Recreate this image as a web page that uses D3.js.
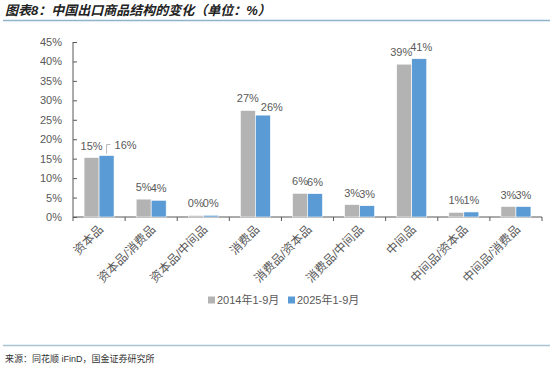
<html>
<head>
<meta charset="utf-8">
<style>
  body { margin:0; background:#fff; }
  .chart text { font-family: "Liberation Sans", "Noto Sans CJK SC", sans-serif; fill:#595959; }
  .cn { font-family: "Noto Sans CJK SC", sans-serif; }
</style>
</head>
<body>
<svg id="chart1" class="chart"></svg>
<script src="https://d3js.org/d3.v7.min.js"></script>
<script>
var width = 550, height = 367;

// data
var categories = ["资本品","资本品/消费品","资本品/中间品","消费品","消费品/资本品","消费品/中间品","中间品","中间品/资本品","中间品/消费品"];
var series2014 = [15.3, 4.6, 0.4, 27.4, 6.1, 3.2, 39.3, 1.2, 2.7];
var series2025 = [15.8, 4.3, 0.45, 26.2, 6.0, 2.9, 40.7, 1.3, 2.7];
var seriesNames = ["2014年1-9月", "2025年1-9月"];
var yTicks = [0, 5, 10, 15, 20, 25, 30, 35, 40, 45];
var colors = ["#b3b3b3", "#5b9bd5"];

var x = d3.scaleBand().domain(categories).range([73, 542]);
var y = d3.scaleLinear().domain([0, 45]).range([217, 42]);
var bw = 15;

var svg = d3.select('#chart1').attr('width', width).attr('height', height);

// title
svg.append('text').attr('class','cn')
  .attr('x', 5).attr('y', 15)
  .style('font-size','13px').style('font-weight','bold').style('font-style','italic')
  .style('fill','#222')
  .text('图表8：中国出口商品结构的变化（单位：%）');
svg.append('line').attr('x1',3).attr('x2',550).attr('y1',20.5).attr('y2',20.5)
  .attr('stroke','#8fb4c9').attr('stroke-width',1.5);

// y axis (ticks point inward)
var yAxis = svg.append('g').attr('transform','translate(73,0)')
  .call(d3.axisLeft(y).tickValues(yTicks).tickSize(-4).tickFormat(function(d){ return d + '%'; }));
yAxis.selectAll('path, line').attr('stroke','#595959');
yAxis.selectAll('text').style('font-size','11px').attr('fill','#595959').attr('x',-11);
yAxis.select('.domain').attr('d','M0,42V217');

// x axis
var xg = svg.append('g').attr('transform','translate(0,217)');
xg.append('line').attr('x1',73).attr('x2',542).attr('stroke','#595959');
xg.selectAll('.tk').data(categories.concat(['end'])).enter().append('line')
  .attr('x1', function(d,i){ return x.range()[0] + i*x.bandwidth(); })
  .attr('x2', function(d,i){ return x.range()[0] + i*x.bandwidth(); })
  .attr('y1',0).attr('y2',4).attr('stroke','#595959');
xg.selectAll('.xl').data(categories).enter().append('text')
  .attr('class','cn')
  .attr('transform', function(d){ return 'translate(' + (x(d) + x.bandwidth()/2 + 2) + ',10) rotate(-45)'; })
  .attr('text-anchor','end').attr('dy','0.35em')
  .style('font-size','12px')
  .text(function(d){ return d; });

// bars
var all = [series2014, series2025];
all.forEach(function(vals, s){
  var g = svg.append('g');
  g.selectAll('rect').data(vals).enter().append('rect')
    .attr('x', function(d,i){ return x(categories[i]) + x.bandwidth()/2 - bw + s*bw; })
    .attr('y', function(d){ return y(d); })
    .attr('width', bw)
    .attr('height', function(d){ return y(0) - y(d); })
    .attr('fill', colors[s])
    .attr('stroke','#fff').attr('stroke-width',0.6);
  g.selectAll('text').data(vals).enter().append('text')
    .attr('x', function(d,i){
      var cx = x(categories[i]) + x.bandwidth()/2 - bw/2 + s*bw;
      if (i === 0 && s === 1) return cx + 19;
      if (i === 3 && s === 1) return cx + 9;
      if (i === 6 && s === 0) return cx - 3;
      if (i === 6 && s === 1) return cx + 2;
      return cx;
    })
    .attr('y', function(d,i){
      if (i === 0 && s === 1) return y(d) - 7;
      if (i === 3 && s === 1) return y(d) - 4;
      return y(d) - 8;
    })
    .attr('text-anchor','middle')
    .style('font-size','11px')
    .text(function(d){ return Math.round(d) + '%'; });
});

// leader line for 16%
var cx0 = x(categories[0]) + x.bandwidth()/2 + bw/2;
svg.append('path')
  .attr('d', 'M' + cx0 + ',' + (y(series2025[0]) - 2) + 'V' + (y(series2025[0]) - 11) + 'h4')
  .attr('fill','none').attr('stroke','#a6a6a6').attr('stroke-width',0.8);

// legend
var lg = svg.append('g').attr('transform','translate(208,300)');
var lx = [0, 80];
seriesNames.forEach(function(n, s){
  lg.append('rect').attr('x', lx[s]).attr('y',-3.5).attr('width',7).attr('height',7).attr('fill',colors[s]);
  lg.append('text').attr('x', lx[s] + 9).attr('y',0).attr('dy','0.35em')
    .style('font-size','11px').text(n);
});

// footer
svg.append('line').attr('x1',3).attr('x2',550).attr('y1',345.5).attr('y2',345.5)
  .attr('stroke','#a9c4d3').attr('stroke-width',1.5);
svg.append('text').attr('class','cn')
  .attr('x',5).attr('y',362)
  .style('font-size','9px').style('fill','#333')
  .text('来源：同花顺 iFinD，国金证券研究所');
</script>
</body>
</html>
